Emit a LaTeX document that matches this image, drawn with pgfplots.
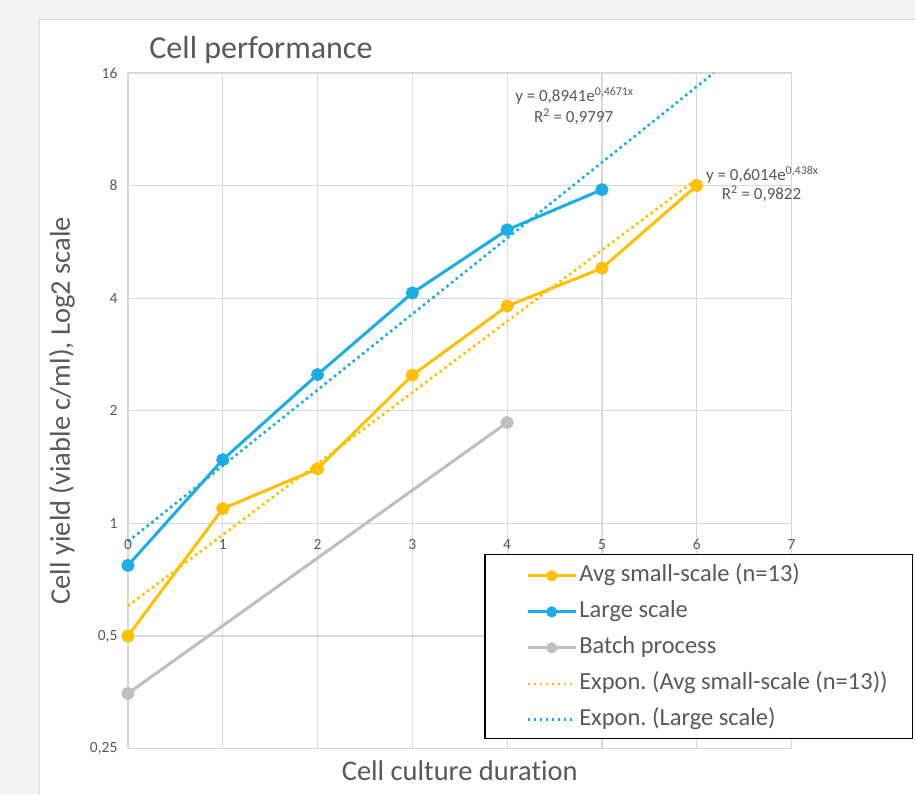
\documentclass[border=0pt]{standalone}
\usepackage{fontspec}
\setmainfont[Ligatures=NoCommon]{Carlito}
\usepackage{pgfplots}
\pgfplotsset{compat=1.18}
\definecolor{cOrange}{HTML}{FFC000}
\definecolor{cBlue}{HTML}{1CADE4}
\definecolor{cGray}{HTML}{BFBFBF}
\definecolor{cText}{HTML}{595959}
\definecolor{cGrid}{HTML}{D9D9D9}
\definecolor{cBack}{HTML}{F2F2F2}
\frenchspacing
\begin{document}
\begin{tikzpicture}
\fill[cBack] (0pt,0pt) rectangle (915pt,794pt);
\fill[white] (40pt,0pt) rectangle (915pt,774pt);
\draw[cGrid, line width=1pt] (40pt,0pt) -- (40pt,774pt) -- (915pt,774pt);
\begin{axis}[
  at={(128pt,45pt)}, anchor=south west,
  width=664pt, height=676pt, scale only axis,
  xmin=0, xmax=7, ymin=0.25, ymax=16,
  ymode=log, log basis y=2,
  xtick={0,...,7}, xticklabels={},
  ytick={0.25,0.5,1,2,4,8,16},
  yticklabels={{0,25},{0,5},1,2,4,8,16},
  grid=major, grid style={cGrid, line width=1.3pt},
  axis line style={draw=none},
  major tick length=0pt,
  yticklabel style={font=\fontsize{15.5}{18}\selectfont, text=cText, xshift=-7pt},
  /pgf/number format/assume math mode=true,
  clip=false,
  legend cell align=left,
  legend style={at={(rel axis cs:0.600,0.2722)}, anchor=north west,
    draw=none, fill=none, inner sep=0pt, row sep=14pt,
    font=\fontsize{24.5}{29}\selectfont, text=cText,
    nodes={inner xsep=2pt, inner ysep=0pt, text height=17pt, text depth=5pt}},
  legend image code/.code={\draw[mark repeat=2,mark phase=2,mark size=4pt,#1] plot coordinates {(0pt,0pt) (24pt,0pt) (48pt,0pt)};},
]
\addplot[cOrange, line width=3pt, mark=*, mark size=5pt, mark options={solid}] coordinates {
  (0,0.5) (1,1.095) (2,1.40) (3,2.49) (4,3.81) (5,4.81) (6,8.0)};
\addlegendentry{Avg small-scale (n=13)}
\addplot[cBlue, line width=3pt, mark=*, mark size=5pt, mark options={solid}] coordinates {
  (0,0.772) (1,1.48) (2,2.50) (3,4.13) (4,6.09) (5,7.80)};
\addlegendentry{Large scale}
\addplot[cGray, line width=3pt, mark=*, mark size=5pt, mark options={solid}] coordinates {
  (0,0.351) (4,1.86)};
\addlegendentry{Batch process}
\addplot[cOrange, line width=2.6pt, dash pattern=on 2.6pt off 3.4pt] coordinates {
  (0,0.6014) (6,8.33)};
\addlegendentry{Expon. (Avg small-scale (n=13))}
\addplot[cBlue, line width=2.6pt, dash pattern=on 2.6pt off 3.4pt] coordinates {
  (0,0.8941) (6.18,16)};
\addlegendentry{Expon. (Large scale)}
\pgfplotsinvokeforeach{0,...,7}{
  \node[font=\fontsize{15.5}{18}\selectfont, text=cText, yshift=-21pt] at (axis cs:#1,1) {#1};
}
\draw[black, line width=1.6pt, fill=white] (rel axis cs:0.5377,0.287) rectangle (rel axis cs:1.1822,0.0148);
\end{axis}
\node[anchor=base west, font=\fontsize{32}{38}\selectfont, text=cText] at (146pt,735pt) {Cell performance};
\node[anchor=base, font=\fontsize{28.5}{34}\selectfont, text=cText] at (460pt,13pt) {Cell culture duration};
\node[rotate=90, anchor=center, font=\fontsize{28.5}{34}\selectfont, text=cText] at (62pt,383pt) {Cell yield (viable c/ml), Log2 scale};
\node[anchor=base west, font=\fontsize{17}{20}\selectfont, text=cText] at (512pt,692pt) {y = 0,8941e\textsuperscript{0,4671x}};
\node[anchor=base, font=\fontsize{17}{20}\selectfont, text=cText] at (574pt,671pt) {R\textsuperscript{2} = 0,9797};
\node[anchor=base west, font=\fontsize{17}{20}\selectfont, text=cText] at (703pt,613pt) {y = 0,6014e\textsuperscript{0,438x}};
\node[anchor=base, font=\fontsize{17}{20}\selectfont, text=cText] at (762pt,594pt) {R\textsuperscript{2} = 0,9822};
\end{tikzpicture}
\end{document}
